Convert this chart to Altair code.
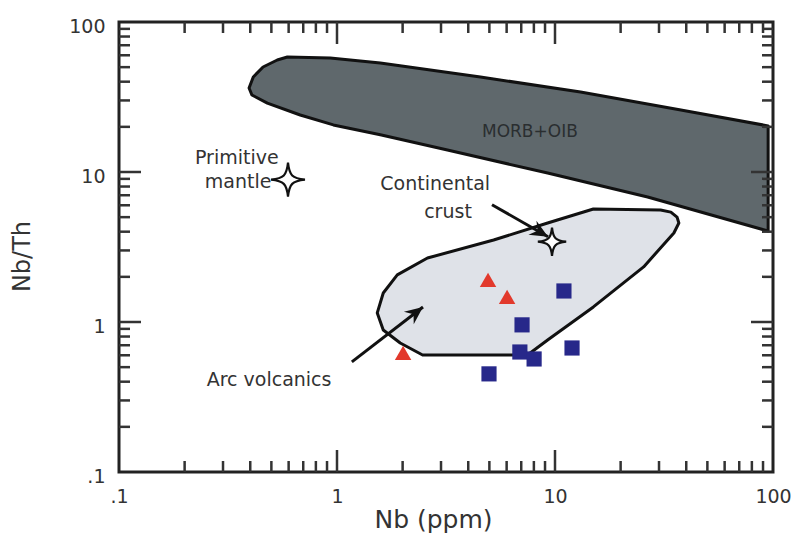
import altair as alt
import pandas as pd

# ---- sample analyses -------------------------------------------------------
tri_nb = [2.01, 4.93, 6.03]
tri_nbth = [0.622, 1.91, 1.47]

sq_nb = [4.98, 6.90, 7.06, 8.02, 10.99, 11.97]
sq_nbth = [0.451, 0.631, 0.957, 0.567, 1.61, 0.671]

# ---- reference fields (outline vertices, Nb ppm / Nb/Th) -------------------
morb_nb = [0.395, 0.413, 0.458, 0.532, 0.592, 0.931, 1.58, 4.55, 13.1, 37.8, 95.0,
           95.0, 26.6, 9.25, 3.21, 1.58, 0.962, 0.678, 0.479, 0.407]
morb_nbth = [36.3, 43.0, 50.1, 55.8, 58.4, 57.5, 53.3, 43.0, 34.1, 25.9, 20.3,
             4.04, 6.81, 9.85, 14.0, 17.7, 20.6, 24.0, 28.8, 32.6]

arc_nb = [30.5, 15.0, 9.25, 5.23, 2.60, 1.89, 1.63, 1.53, 1.63, 1.95, 2.47,
          7.48, 9.25, 15.0, 25.5, 35.1, 37.0, 36.3, 34.0]
arc_nbth = [5.58, 5.67, 4.57, 3.52, 2.67, 2.06, 1.56, 1.15, 0.885, 0.724, 0.603,
            0.603, 0.759, 1.26, 2.33, 3.92, 4.57, 5.0, 5.4]

# ---- reservoir compositions -----------------------------------------------
res_name = ["Primitive mantle", "Continental crust"]
res_nb = [0.596, 9.69]
res_nbth = [8.89, 3.43]

# ---- axis ticks --------------------------------------------------------------
decades = [0.1, 1, 10, 100]
minor = [round(d * k, 3) for d in decades[:-1] for k in range(2, 10)]

W, H = 654, 450
MAJ, MIN = 22, 11          # inward tick lengths in pixels
LO, HI = 0.1, 100.0        # both axes span three decades
FONT = "DejaVu Sans"

xaxis = alt.Axis(values=decades, labelExpr="datum.value == 0.1 ? '.1' : format(datum.value, 'd')",
                 ticks=False, domain=False, grid=False, labelPadding=15, labelFontSize=19,
                 labelColor="#333", labelFont=FONT, labelFlush=False, labelOverlap=False,
                 title="Nb (ppm)", titleFont=FONT, titleFontSize=25, titleFontWeight="normal",
                 titleColor="#333", titleX=314, titleY=55, titleBaseline="alphabetic",
                 titleAnchor="start", titleAlign="center")
yaxis = alt.Axis(values=decades, labelExpr="datum.value == 0.1 ? '.1' : format(datum.value, 'd')",
                 ticks=False, domain=False, grid=False, labelPadding=14, labelFontSize=19,
                 labelColor="#333", labelFont=FONT, labelFlush=False, labelOverlap=False,
                 labelOffset=4,
                 title="Nb/Th", titleFont=FONT, titleFontSize=24, titleFontWeight="normal",
                 titleColor="#333", titleX=-97, titleY=234, titleAngle=270,
                 titleBaseline="middle", titleAlign="center")

xs = alt.Scale(type="log", domain=[LO, HI])
ys = alt.Scale(type="log", domain=[LO, HI])
X = alt.X("nb:Q", scale=xs, axis=xaxis)
Y = alt.Y("nbth:Q", scale=ys, axis=yaxis)

morb = pd.DataFrame({"nb": morb_nb, "nbth": morb_nbth, "i": range(len(morb_nb))})
arc = pd.DataFrame({"nb": arc_nb, "nbth": arc_nbth, "i": range(len(arc_nb))})
tri = pd.DataFrame({"nb": tri_nb, "nbth": tri_nbth})
sq = pd.DataFrame({"nb": sq_nb, "nbth": sq_nbth})
res = pd.DataFrame({"name": res_name, "nb": res_nb, "nbth": res_nbth})

morb_layer = alt.Chart(morb).mark_line(
    interpolate="linear-closed", fill="#5f686c", stroke="#111", strokeWidth=3, strokeJoin="round"
).encode(x=X, y=Y, order="i:Q")

arc_layer = alt.Chart(arc).mark_line(
    interpolate="linear-closed", fill="#dfe2e8", stroke="#111", strokeWidth=3, strokeJoin="round"
).encode(x=X, y=Y, order="i:Q")

# inward ticks on all four sides, each one a short two-point segment;
# a fixed pixel length is a fixed ratio on a log axis
xdec, ydec = W / 3, H / 3
segs = []


def add_seg(p0, p1):
    sid = len(segs) // 2
    segs.append({"seg": sid, "k": 0, "nb": p0[0], "nbth": p0[1]})
    segs.append({"seg": sid, "k": 1, "nb": p1[0], "nbth": p1[1]})


for vals, px in ((minor, MIN), (decades[1:-1], MAJ)):
    ry = 10 ** (px / ydec)
    rx = 10 ** (px / xdec)
    for v in vals:
        add_seg((v, LO), (v, LO * ry))      # bottom
        add_seg((v, HI), (v, HI / ry))      # top
        add_seg((LO, v), (LO * rx, v))      # left
        add_seg((HI, v), (HI / rx, v))      # right

ticks = pd.DataFrame(segs)
tick_layer = alt.Chart(ticks).mark_line(stroke="#333333", strokeWidth=2.5).encode(
    x=X, y=Y, detail="seg:N", order="k:Q")

# annotation arrows (tail -> head)
arrows = pd.DataFrame({
    "arrow": ["crust", "crust", "arc", "arc"],
    "k": [0, 1, 0, 1],
    "nb": [5.14, 9.29, 1.17, 2.48],
    "nbth": [6.05, 3.70, 0.542, 1.26],
})
arrow_lines = alt.Chart(arrows).mark_line(color="#111", strokeWidth=3).encode(
    x=X, y=Y, detail="arrow:N", order="k:Q")
HEAD = "M0,0 L0.8,1.8 L0,1.2 L-0.8,1.8 Z"
head_crust = alt.Chart(arrows[(arrows.arrow == "crust") & (arrows.k == 1)]).mark_point(
    shape=HEAD, size=400, filled=True, color="#111", opacity=1, angle=120).encode(x=X, y=Y)
head_arc = alt.Chart(arrows[(arrows.arrow == "arc") & (arrows.k == 1)]).mark_point(
    shape=HEAD, size=400, filled=True, color="#111", opacity=1, angle=52).encode(x=X, y=Y)

STAR = ("M0,-1 C0.08,-0.25 0.25,-0.08 1,0 C0.25,0.08 0.08,0.25 0,1 "
        "C-0.08,0.25 -0.25,0.08 -1,0 C-0.25,-0.08 -0.08,-0.25 0,-1 Z")
star_pm = alt.Chart(res.iloc[[0]]).mark_point(
    shape=STAR, size=1150, filled=True, fill="white", stroke="#111", strokeWidth=2.2, opacity=1
).encode(x=X, y=Y)
star_cc = alt.Chart(res.iloc[[1]]).mark_point(
    shape=STAR, size=800, filled=True, fill="white", stroke="#111", strokeWidth=2.2, opacity=1
).encode(x=X, y=Y)

tri_layer = alt.Chart(tri).mark_point(
    shape="triangle-up", size=270, filled=True, color="#e2392c", opacity=1).encode(x=X, y=Y)
sq_layer = alt.Chart(sq).mark_point(
    shape="square", size=230, filled=True, color="#27288a", opacity=1).encode(x=X, y=Y)

labels = pd.DataFrame({
    "text": ["Primitive", "mantle", "Continental", "crust", "Arc volcanics"],
    "nb": [0.347, 0.352, 2.82, 3.23, 0.488],
    "nbth": [12.4, 8.6, 8.36, 5.43, 0.41],
})
label_layer = alt.Chart(labels).mark_text(
    font=FONT, fontSize=19, color="#333", align="center", baseline="middle"
).encode(x=X, y=Y, text="text:N")
morb_label = alt.Chart(pd.DataFrame({"text": ["MORB+OIB"], "nb": [7.67], "nbth": [18.6]})).mark_text(
    font=FONT, fontSize=17, color="#2a2e30", align="center", baseline="middle"
).encode(x=X, y=Y, text="text:N")

chart = alt.layer(
    morb_layer, arc_layer, arrow_lines, head_crust, head_arc,
    tri_layer, sq_layer, star_pm, star_cc, label_layer, morb_label, tick_layer
).properties(
    width=W, height=H,
    autosize=alt.AutoSizeParams(type="none"),
    padding={"left": 119, "top": 22, "right": 19, "bottom": 61},
    background="white",
).configure_view(stroke="#222222", strokeWidth=3)

chart.save("out.html", embed_options={"renderer": "svg", "actions": False})
